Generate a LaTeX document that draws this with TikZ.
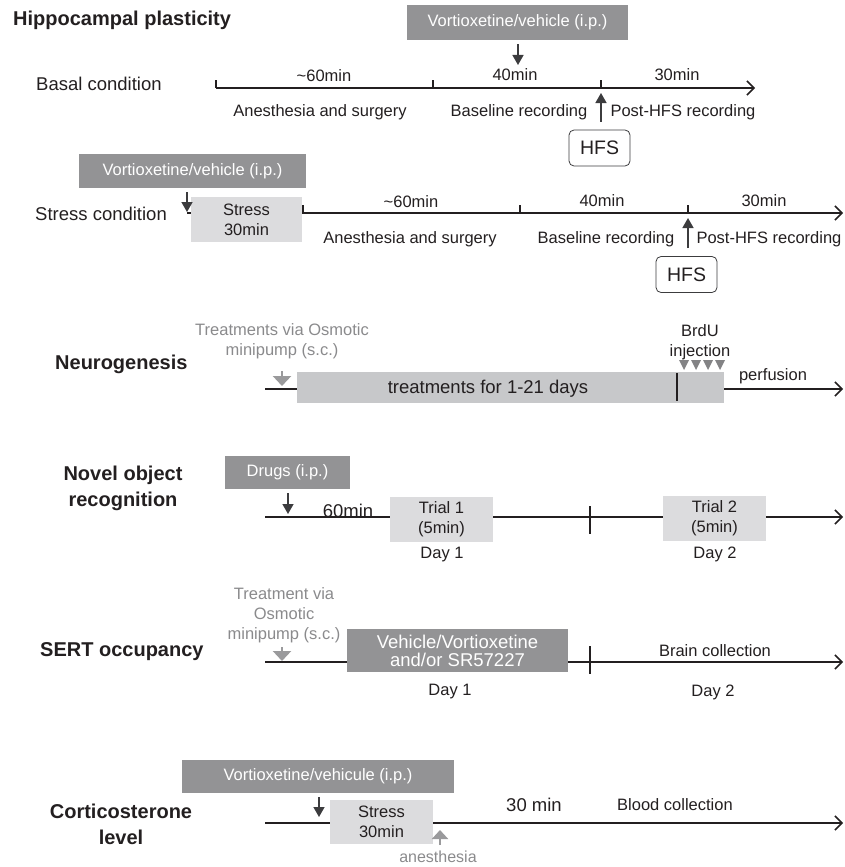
\documentclass[tikz,border=0pt]{standalone}
\usepackage{fontspec}
\setmainfont{Liberation Sans}
\usetikzlibrary{arrows.meta}
\definecolor{boxdark}{HTML}{939395}
\definecolor{boxlight}{HTML}{DCDCDE}
\definecolor{boxmid}{HTML}{C7C8CA}
\definecolor{txtgray}{HTML}{8A8A8C}
\definecolor{arrgray}{HTML}{9A9A9C}
\definecolor{arrdark}{HTML}{3C3C3E}
\definecolor{inkdark}{HTML}{231F20}

\begin{document}
\begin{tikzpicture}[x=1pt, y=-1pt, line join=round,
    timearrow/.style={line width=1.5pt, draw=inkdark, -{Straight Barb[length=7pt,width=14pt]}},
    tickline/.style={line width=1.2pt, draw=inkdark},
    lbl/.style={font=\fontsize{16.5}{20}\selectfont, text=inkdark, inner sep=0pt, align=center},
    biglbl/.style={lbl, font=\fontsize{18.5}{22}\selectfont},
    rowlbl/.style={biglbl, anchor=west},
    sectitle/.style={font=\bfseries\fontsize{20}{26}\selectfont, text=inkdark, inner sep=0pt, align=center},
    graylbl/.style={lbl, text=txtgray},
    darkbox/.style={lbl, fill=boxdark, text=white},
    lightbox/.style={lbl, fill=boxlight},
    hfsbox/.style={lbl, draw=arrdark, line width=0.8pt, rounded corners=5pt, font=\fontsize{19.5}{22}\selectfont, minimum width=61pt, minimum height=36pt},
    dnarrow/.style={draw=arrdark, line width=1.5pt, -{Triangle[length=10pt,width=11pt]}},
    pumparrow/.style={draw=arrgray, line width=2.5pt, -{Triangle[length=10pt,width=18pt]}}]
    \useasboundingbox (0,0) rectangle (844,867);

    % 1. 海马可塑性：基础条件
    \node[sectitle, anchor=west] (hp) at (13,20) {Hippocampal plasticity};
    \node[rowlbl] (basal) at (36,84) {Basal condition};
    \coordinate (bS) at (216,88);
    \coordinate (bT1) at (433,88);
    \coordinate (bT2) at (601,88);
    \coordinate (bE) at (755,88);
    \draw[timearrow] (bS) -- (bE);
    \foreach \t in {bS,bT1,bT2} \draw[tickline] (\t) -- ++(0,-8);
    \node[lbl] (b60) at (324,76) {\textasciitilde60min};
    \node[lbl] (b40) at (515,75) {40min};
    \node[lbl] (b30) at (677,75) {30min};
    \node[lbl] (bAn) at (320,112) {Anesthesia and surgery};
    \node[lbl] (bBl) at (519,112) {Baseline recording};
    \node[lbl] (bPo) at (683,112) {Post-HFS recording};
    % 给药与 HFS 箭头
    \node[darkbox, minimum width=221pt, minimum height=35pt] (bVort) at (517.5,22.5) {Vortioxetine/vehicle (i.p.)};
    \coordinate (bV) at (518,65);
    \draw[dnarrow, shorten <=4pt] (bVort.south -| bV) -- (bV);
    \node[hfsbox] (bHfs) at (599.5,148) {HFS};
    \coordinate (bH) at (601,93);
    \draw[dnarrow, shorten <=8pt] (bHfs.north -| bH) -- (bH);

    % 2. 应激条件
    \node[rowlbl] (stress) at (35,214) {Stress condition};
    \coordinate (sS) at (187,213);
    \coordinate (sT0) at (303,213);
    \coordinate (sT1) at (520,213);
    \coordinate (sT2) at (688,213);
    \coordinate (sE) at (843,213);
    \draw[timearrow] (sS) -- (sE);
    \foreach \t in {sT0,sT1,sT2} \draw[tickline] (\t) -- ++(0,-8);
    \node[lightbox, minimum width=111pt, minimum height=45pt] (sStr) at (246.5,219.5) {Stress\\30min};
    \node[lbl] (s60) at (411,202) {\textasciitilde60min};
    \node[lbl] (s40) at (602,201) {40min};
    \node[lbl] (s30) at (764,201) {30min};
    \node[lbl] (sAn) at (410,239) {Anesthesia and surgery};
    \node[lbl] (sBl) at (606,239) {Baseline recording};
    \node[lbl] (sPo) at (769,239) {Post-HFS recording};
    \node[darkbox, minimum width=227pt, minimum height=34pt] (sVort) at (192.5,171) {Vortioxetine/vehicle (i.p.)};
    \coordinate (sV) at (187,212);
    \draw[dnarrow, shorten <=4pt] (sVort.south -| sV) -- (sV);
    \node[hfsbox] (sHfs) at (686.5,274.5) {HFS};
    \coordinate (sH) at (688,218);
    \draw[dnarrow, shorten <=8pt] (sHfs.north -| sH) -- (sH);

    % 3. 神经发生
    \node[sectitle, anchor=west] (neuro) at (55,364) {Neurogenesis};
    \node[graylbl] (nPump) at (282,341) {Treatments via Osmotic\\minipump (s.c.)};
    \coordinate (nS) at (265,389);
    \coordinate (nE) at (843,389);
    \draw[timearrow] (nS) -- (nE);
    \node[lbl, fill=boxmid, minimum width=427pt, minimum height=31pt] (nTrt) at (510.5,387.5) {};
    \node[biglbl] (nTrtTxt) at (488,389) {treatments for 1-21 days};
    \draw[tickline] (677,373) -- (677,401);
    \coordinate (nP) at (282,386);
    \draw[pumparrow] (282,371) -- (nP);
    \node[lbl] (nBrdu) at (700,342) {BrdU\\injection};
    \foreach \x in {684,696,708,720}
        \fill[arrgray!85!black] (\x-5,360) -- (\x+5,360) -- (\x,370) -- cycle;
    \node[lbl] (nPerf) at (773,376) {perfusion};

    % 4. 新物体识别
    \node[sectitle] (nor) at (123,488) {Novel object\\recognition};
    \coordinate (oS) at (265,517);
    \coordinate (oE) at (843,517);
    \draw[timearrow] (oS) -- (oE);
    \draw[tickline] (590,506) -- (590,534);
    \node[darkbox, minimum width=125pt, minimum height=33pt] (oDrug) at (287.5,472.5) {Drugs (i.p.)};
    \coordinate (oV) at (288,514);
    \draw[dnarrow, shorten <=4pt] (oDrug.south -| oV) -- (oV);
    \node[biglbl] (o60) at (348,511) {60min};
    \node[lightbox, minimum width=103pt, minimum height=45pt] (oTr1) at (441.5,519.5) {Trial 1\\(5min)};
    \node[lightbox, minimum width=103pt, minimum height=45pt] (oTr2) at (714.5,518.5) {Trial 2\\(5min)};
    \node[lbl] (oD1) at (442,555) {Day 1};
    \node[lbl] (oD2) at (715,554) {Day 2};

    % 5. SERT 占有率
    \node[sectitle, anchor=west] (sert) at (40,652) {SERT occupancy};
    \node[graylbl] (ePump) at (284,615) {Treatment via\\Osmotic\\minipump (s.c.)};
    \coordinate (eS) at (265,662);
    \coordinate (eE) at (843,662);
    \draw[timearrow] (eS) -- (eE);
    \draw[tickline] (590,646) -- (590,674);
    \coordinate (eP) at (282,661);
    \draw[pumparrow] (282,647) -- (eP);
    \node[darkbox, font=\fontsize{18.5}{18}\selectfont, minimum width=221pt, minimum height=43pt] (eVeh) at (457.5,650.5) {Vehicle/Vortioxetine\\and/or SR57227};
    \node[lbl] (eD1) at (450,692) {Day 1};
    \node[lbl] (eBrain) at (715,651) {Brain collection};
    \node[lbl] (eD2) at (713,692) {Day 2};

    % 6. 皮质酮水平
    \node[sectitle] (cort) at (121,824) {Corticosterone\\level};
    \coordinate (cS) at (265,823);
    \coordinate (cE) at (843,823);
    \draw[timearrow] (cS) -- (cE);
    \node[darkbox, minimum width=272pt, minimum height=33pt] (cVort) at (318,776.5) {Vortioxetine/vehicule (i.p.)};
    \coordinate (cV) at (319,817);
    \draw[dnarrow, shorten <=4pt] (cVort.south -| cV) -- (cV);
    \node[lightbox, minimum width=103pt, minimum height=44pt] (cStr) at (381.5,822) {Stress\\30min};
    \node[graylbl, font=\fontsize{16}{20}\selectfont] (cAnes) at (438,857) {anesthesia};
    \coordinate (cA) at (440,830);
    \draw[pumparrow, line width=2pt, -{Triangle[length=9pt,width=16pt]}] (440,845) -- (cA);
    \node[biglbl] (c30) at (534,805) {30 min};
    \node[lbl] (cBlood) at (675,805) {Blood collection};
\end{tikzpicture}
\end{document}
